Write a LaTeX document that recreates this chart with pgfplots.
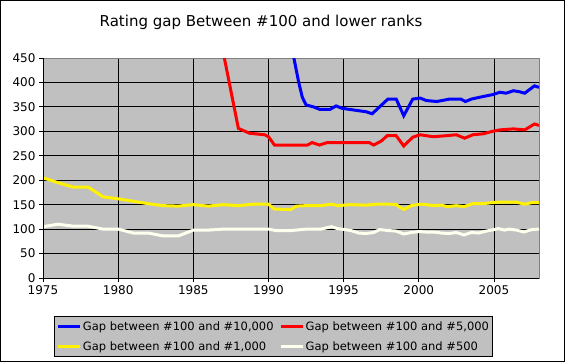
\documentclass[border=0pt]{standalone}
\usepackage{fontspec}
\setmainfont{DejaVu Sans}
\usepackage{pgfplots}
\pgfplotsset{compat=1.18}
\definecolor{bggray}{HTML}{C0C0C0}
\definecolor{framegray}{HTML}{808080}
\definecolor{ivory}{HTML}{FFFFEE}
\begin{document}
\begin{tikzpicture}[x=1pt,y=1pt]
\draw[line width=1pt,black] (0.5,0.5) rectangle (564.5,361.5);
\node[font=\fontsize{15}{17}\selectfont] at (261,340) {Rating gap Between \#100 and lower ranks};
\begin{axis}[
  at={(43pt,84pt)}, anchor=south west,
  scale only axis, width=496pt, height=220pt,
  xmin=1975, xmax=2008, ymin=0, ymax=450,
  xtick={1975,1980,1985,1990,1995,2000,2005},
  ytick={0,50,...,450},
  /pgf/number format/assume math mode=true,
  xticklabel style={/pgf/number format/1000 sep={}},
  tick label style={font=\fontsize{12}{14}\selectfont, black},
  tick pos=left, tick align=outside, major tick length=4pt,
  tick style={black, line width=0.8pt},
  axis line style={framegray, line width=0.8pt},
  grid=major, major grid style={black, line width=0.8pt},
  axis background/.style={fill=bggray},
  clip=true,
  legend columns=2,
  legend cell align=left,
  legend style={at={(rel axis cs:0.0222,-0.1727)}, anchor=north west,
    fill=bggray, draw=black, line width=0.8pt,
    font=\fontsize{11.5}{13}\selectfont,
    inner xsep=2pt, inner ysep=3.5pt, row sep=7pt,
    /tikz/every even column/.append style={column sep=4pt},
    nodes={inner sep=1.5pt}},
  legend image code/.code={\draw[#1, line width=3pt] (0pt,0pt) -- (22pt,0pt);},
]
\addplot[blue, line width=3pt] coordinates {
(1991.5,480)(1992,402)(1992.25,370)(1992.5,354)(1993,350)(1993.4,345)(1994.1,345)(1994.5,352)(1994.9,347)(1995.6,344)(1996.5,340)(1996.9,336)(1997.95,366)(1998.5,366)(1999.0,332)(1999.6,366)(2000.1,368)(2000.5,363)(2001.2,361)(2002.05,366)(2002.8,366)(2003.1,361)(2003.5,366)(2004.25,371)(2004.9,375)(2005.4,380)(2005.8,378)(2006.3,383)(2006.7,381)(2007.05,378)(2007.7,393)(2008,390)
};
\addlegendentry{Gap between \#100 and \#10,000}
\addplot[red, line width=3pt] coordinates {
(1987,460)(1988,306)(1988.75,296)(1989.75,293)(1990,289)(1990.4,272)(1992.6,272)(1992.9,277)(1993.4,272)(1993.9,277)(1996.7,277)(1997,272)(1997.5,280)(1997.9,291)(1998.5,291)(1999,270)(1999.6,288)(2000.1,293)(2000.95,289)(2001.8,291)(2002.5,293)(2003.05,286)(2003.6,293)(2004.3,295)(2004.9,300)(2005.4,303)(2006.3,305)(2007.05,303)(2007.7,315)(2008,312)
};
\addlegendentry{Gap between \#100 and \#5,000}
\addplot[yellow, line width=3pt] coordinates {
(1975,205)(1976,195)(1977,186)(1978,186)(1979,166)(1980,162)(1981,157)(1982,152)(1983,148)(1984,147)(1985,150)(1986,147)(1987,150)(1988,148)(1989,151)(1990,151)(1990.4,141)(1991.5,140)(1991.85,147)(1992.5,148)(1993.5,148)(1994.2,151)(1994.6,148)(1995.5,150)(1996.5,149)(1997.2,151)(1998,151)(1998.5,150)(1999,140)(1999.5,148)(2000.1,151)(2000.5,150)(2001,148)(2001.5,149)(2001.9,146)(2002.5,148)(2003,146)(2003.6,152)(2004.3,152)(2004.8,154)(2005.3,155)(2006,155)(2006.5,155)(2007.05,151)(2007.5,154)(2008,154)
};
\addlegendentry{Gap between \#100 and \#1,000}
\addplot[ivory, line width=3pt] coordinates {
(1975,105)(1976,110)(1977,106)(1978,106)(1979,100)(1980,100)(1981,92)(1982,92)(1983,86)(1984,86)(1985,98)(1986,98)(1987,100)(1988,100)(1989,100)(1990,100)(1990.5,97)(1991.5,97)(1992.5,100)(1993.5,100)(1994.2,105)(1994.6,101)(1995.1,99)(1995.5,97)(1996,92)(1996.5,91)(1997,93)(1997.4,99)(1998,97)(1998.5,96)(1999,90)(1999.5,93)(2000,95)(2000.5,94)(2001,94)(2001.5,92)(2002,91)(2002.5,93)(2003,88)(2003.5,93)(2004,92)(2004.5,96)(2005,99)(2005.3,101)(2005.7,98)(2006,100)(2006.5,98)(2007,94)(2007.5,99)(2008,100)
};
\addlegendentry{Gap between \#100 and \#500}
\draw[black, line width=0.8pt] (rel axis cs:0,1) -- (rel axis cs:0,0) -- (rel axis cs:1,0);
\end{axis}
\end{tikzpicture}
\end{document}
